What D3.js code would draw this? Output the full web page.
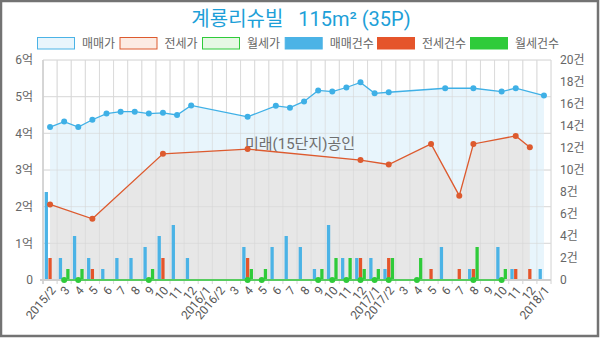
<!DOCTYPE html>
<html><head><meta charset="utf-8">
<script src="https://cdn.jsdelivr.net/npm/d3@7"></script>
<style>body{margin:0;background:#fff}svg{display:block}text{font-family:Roboto,"Noto Sans CJK KR",sans-serif}</style>
</head><body><svg id="c" width="600" height="338"></svg>
<script>
const months = ["2015/2","3","4","5","6","7","8","9","10","11","12",
  "2016/1","2016/2","3","4","5","6","7","8","9","10","11","12",
  "2017/1","2017/2","3","4","5","6","7","8","9","10","11","12","2018/1"];
// prices in 억
const salePrice = [4.17,4.32,4.17,4.37,4.54,4.59,4.59,4.54,4.56,4.50,4.76,null,null,null,4.45,null,4.75,4.70,4.87,5.17,5.14,5.25,5.39,5.09,5.12,null,null,null,5.23,null,5.23,null,5.14,5.23,null,5.03];
const jeonsePrice = [2.06,null,null,1.67,null,null,null,null,3.44,null,null,null,null,null,3.57,null,null,null,null,null,null,null,3.27,null,3.15,null,null,3.71,null,2.30,3.71,null,null,3.93,3.62,null];
const wolsePrice = [null,0,0,null,null,null,null,0,null,null,null,null,null,null,0,0,null,null,null,0,0,0,0,0,0,null,0,null,null,null,0,null,0,null,null,null];
// counts in 건
const saleCount = [8,2,4,2,1,2,2,3,4,5,2,0,0,0,3,0,3,4,3,1,5,2,2,2,1,0,0,0,3,0,1,0,3,1,0,1];
const jeonseCount = [2,0,0,1,0,0,0,0,2,0,0,0,0,0,2,0,0,0,0,0,0,0,2,0,2,0,0,1,0,1,1,0,0,1,1,0];
const wolseCount = [0,1,1,0,0,0,0,1,0,0,0,0,0,0,1,1,0,0,0,1,2,2,1,1,2,0,2,0,0,0,3,0,1,0,0,0];
const leftTicks = [0,1,2,3,4,5,6];
const leftTickLabels = ["0","1억","2억","3억","4억","5억","6억"];
const rightTicks = [0,2,4,6,8,10,12,14,16,18,20];
const rightTickLabels = ["0","2건","4건","6건","8건","10건","12건","14건","16건","18건","20건"];
const legendNames = ["매매가","전세가","월세가","매매건수","전세건수","월세건수"];
const titleText = "계룡리슈빌   115m² (35P)";
const watermark = "미래(15단지)공인";

const svg = d3.select("#c");
svg.append("rect").attr("x",1).attr("y",1).attr("width",597).attr("height",335)
  .attr("fill","#fff").attr("stroke","#737373").attr("stroke-width",2.5);

const pTop = 60, pBottom = 280, pLeft = 43, pRight = 551;
const x = d3.scaleBand().domain(d3.range(months.length)).range([pLeft,pRight]).padding(0);
const bw = x.bandwidth();
const cx = i => x(i) + bw/2;
const yL = d3.scaleLinear().domain([0,6]).range([pBottom,pTop]);
const yR = d3.scaleLinear().domain([0,20]).range([pBottom,pTop]);
const x1 = d3.scaleBand().domain([0,1,2]).range([-0.38*bw,0.38*bw]).paddingInner(0.12);

// grid
const g = svg.append("g");
g.selectAll("line.h").data(leftTicks).join("line")
  .attr("x1",pLeft).attr("x2",pRight).attr("y1",d=>yL(d)).attr("y2",d=>yL(d))
  .attr("stroke","#e2e2e2").attr("stroke-width",1);
g.selectAll("line.v").data(d3.range(months.length+1)).join("line")
  .attr("x1",d=>pLeft+d*bw).attr("x2",d=>pLeft+d*bw).attr("y1",pTop).attr("y2",pBottom+4)
  .attr("stroke","#e2e2e2").attr("stroke-width",1);

// areas
const saleData = salePrice.map((v,i)=>({i,v})).filter(d=>d.v!=null);
const jeonseData = jeonsePrice.map((v,i)=>({i,v})).filter(d=>d.v!=null);
const wolseData = wolsePrice.map((v,i)=>({i,v})).filter(d=>d.v!=null);
const area = d3.area().x(d=>cx(d.i)).y0(yL(0)).y1(d=>yL(d.v));
const line = d3.line().x(d=>cx(d.i)).y(d=>yL(d.v));
svg.append("path").datum(saleData).attr("d",area).attr("fill","#e8f5fc");
svg.append("path").datum(jeonseData).attr("d",area).attr("fill","#e7e7e7");

// redraw grid faintly over areas
const g2 = svg.append("g");
g2.selectAll("line.h").data(leftTicks).join("line")
  .attr("x1",pLeft).attr("x2",pRight).attr("y1",d=>yL(d)).attr("y2",d=>yL(d))
  .attr("stroke","#d6d6d6").attr("stroke-opacity",0.6);
g2.selectAll("line.v").data(d3.range(months.length+1)).join("line")
  .attr("x1",d=>pLeft+d*bw).attr("x2",d=>pLeft+d*bw).attr("y1",pTop).attr("y2",pBottom+4)
  .attr("stroke","#d6d6d6").attr("stroke-opacity",0.6);

// watermark
svg.append("text").attr("x",300).attr("y",149).attr("text-anchor","middle")
  .attr("font-size",15).attr("fill","#6f6f6f").text(watermark);

// bars
const barSeries = [
  {vals:saleCount,color:"#4bb3e6"},
  {vals:jeonseCount,color:"#e5552b"},
  {vals:wolseCount,color:"#2fcb3a"}];
barSeries.forEach((s,k)=>{
  svg.append("g").selectAll("rect").data(s.vals.map((v,i)=>({i,v})).filter(d=>d.v>0)).join("rect")
    .attr("x",d=>cx(d.i)+x1(k)).attr("width",x1.bandwidth())
    .attr("y",d=>yR(d.v)).attr("height",d=>yR(0)-yR(d.v)).attr("fill",s.color);
});

// baseline
svg.append("line").attr("x1",pLeft-3).attr("x2",pRight).attr("y1",pBottom).attr("y2",pBottom)
  .attr("stroke","#cfcfcf").attr("stroke-width",2);
svg.append("line").attr("x1",pLeft).attr("x2",pLeft).attr("y1",pTop).attr("y2",pBottom+4)
  .attr("stroke","#cfcfcf").attr("stroke-width",1.5);

// lines
svg.append("path").datum(saleData).attr("d",line).attr("fill","none").attr("stroke","#3fb0e6").attr("stroke-width",1.3);
svg.append("path").datum(jeonseData).attr("d",line).attr("fill","none").attr("stroke","#dd5a2e").attr("stroke-width",1.3);
svg.append("path").datum(wolseData).attr("d",line).attr("fill","none").attr("stroke","#2fcb3a").attr("stroke-width",1.6);
[[saleData,"#3fb0e6"],[jeonseData,"#dd5a2e"],[wolseData,"#2fcb3a"]].forEach(([d,c])=>{
  svg.append("g").selectAll("circle").data(d).join("circle")
    .attr("cx",p=>cx(p.i)).attr("cy",p=>yL(p.v)).attr("r",3).attr("fill",c);
});

// axes labels
svg.append("g").selectAll("text").data(leftTicks).join("text")
  .attr("x",33).attr("y",d=>yL(d)).attr("dy","0.35em").attr("text-anchor","end")
  .attr("font-size",12).attr("fill","#666").text((d,i)=>leftTickLabels[i]);
svg.append("g").selectAll("text").data(rightTicks).join("text")
  .attr("x",560).attr("y",d=>yR(d)).attr("dy","0.35em").attr("text-anchor","start")
  .attr("font-size",12).attr("fill","#666").text((d,i)=>rightTickLabels[i]);
svg.append("g").selectAll("text").data(d3.range(months.length)).join("text")
  .attr("transform",i=>`translate(${cx(i)+3},${pBottom+8}) rotate(-50)`)
  .attr("text-anchor","end").attr("dy","0.35em")
  .attr("font-size",12).attr("fill","#555").text(i=>months[i]);

// title
svg.append("text").attr("x",301).attr("y",26).attr("text-anchor","middle")
  .style("white-space","pre").attr("font-size",20).attr("fill","#1d9fd8").text(titleText);

// legend
const legX = [37,119.5,202,284.7,377,470];
const legStyle = [
  {fill:"#e8f5fc",stroke:"#4bb3e6"},
  {fill:"#fcebe3",stroke:"#dd5a2e"},
  {fill:"#e6f8e4",stroke:"#2fcb3a"},
  {fill:"#4bb3e6",stroke:"#4bb3e6"},
  {fill:"#e5552b",stroke:"#e5552b"},
  {fill:"#2fcb3a",stroke:"#2fcb3a"}];
const lg = svg.append("g");
legendNames.forEach((n,i)=>{
  lg.append("rect").attr("x",legX[i]+0.5).attr("y",37.5).attr("width",37).attr("height",11.5)
    .attr("fill",legStyle[i].fill).attr("stroke",legStyle[i].stroke).attr("stroke-width",1);
  lg.append("text").attr("x",legX[i]+45).attr("y",48).attr("font-size",12).attr("fill","#666").text(n);
});
</script></body></html>
